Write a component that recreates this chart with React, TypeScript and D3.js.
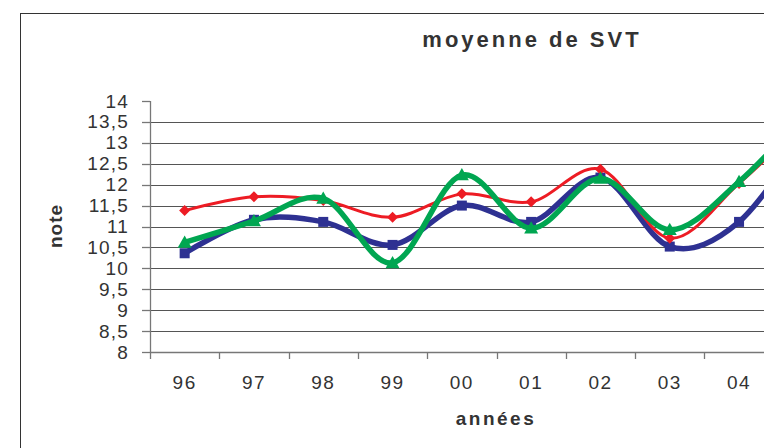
import React from "react";
import * as d3 from "d3";

const categories = ["96", "97", "98", "99", "00", "01", "02", "03", "04", "05"];
const yTicks = [8, 8.5, 9, 9.5, 10, 10.5, 11, 11.5, 12, 12.5, 13, 13.5, 14];
const redValues = [11.38, 11.71, 11.62, 11.22, 11.78, 11.59, 12.37, 10.72, 12.03, 13.6];
const blueValues = [10.36, 11.16, 11.11, 10.56, 11.5, 11.11, 12.17, 10.52, 11.11, 13.3];
const greenValues = [10.62, 11.13, 11.67, 10.13, 12.23, 10.96, 12.15, 10.92, 12.07, 13.8];

const W = 764;
const H = 448;
const FONT = "'Liberation Sans', Arial, sans-serif";

export default function App() {
  const x = d3.scaleBand<string>().domain(categories).range([150, 843]);
  const y = d3.scaleLinear().domain([8, 14]).range([352, 101]);
  const cx = (c: string) => (x(c) as number) + x.bandwidth() / 2;

  const line = d3
    .line<number>()
    .x((_, i) => cx(categories[i]))
    .y((v) => y(v))
    .curve(d3.curveCardinal.tension(0));

  const diamond = (px: number, py: number, r: number) =>
    `M${px},${py - r}L${px + r},${py}L${px},${py + r}L${px - r},${py}Z`;
  const tri = (px: number, py: number, r: number) =>
    `M${px},${py - r}L${px + r},${py + r * 0.75}L${px - r},${py + r * 0.75}Z`;

  const red = "#ED1C24";
  const blue = "#2E3192";
  const green = "#00A651";
  const textCol = "#333";

  const bandTicks = categories.map((c) => x(c) as number).concat([843]);
  const visibleCats = categories.filter((c) => cx(c) + 15 < W);

  return (
    <svg
      width={W}
      height={H}
      style={{ position: "absolute", left: 0, top: 0, background: "#fff" }}
    >
      <rect x={20.5} y={13.5} width={1100} height={600} fill="#fff" stroke="#333" strokeWidth={1} />
      <text
        x={532}
        y={47}
        textAnchor="middle"
        fontFamily={FONT}
        fontWeight="bold"
        fontSize={22}
        letterSpacing={3}
        fill={textCol}
      >
        moyenne de SVT
      </text>

      {/* gridlines */}
      {yTicks
        .filter((t) => t > 8 && t < 14)
        .map((t) => (
          <line key={"g" + t} x1={150} x2={843} y1={Math.round(y(t)) + 0.5} y2={Math.round(y(t)) + 0.5} stroke="#555" strokeWidth={1} />
        ))}

      {/* axes */}
      <line x1={150.5} x2={150.5} y1={y(14)} y2={y(8)} stroke="#777" strokeWidth={1.3} />
      <line x1={150} x2={843} y1={Math.round(y(8)) + 0.5} y2={Math.round(y(8)) + 0.5} stroke="#777" strokeWidth={1.3} />
      {yTicks.map((t) => (
        <g key={"yt" + t}>
          <line x1={142} x2={150} y1={Math.round(y(t)) + 0.5} y2={Math.round(y(t)) + 0.5} stroke="#777" strokeWidth={1.3} />
          <text
            x={129}
            y={y(t) + 6.5}
            textAnchor="end"
            fontFamily={FONT}
            fontSize={19}
            letterSpacing={1.2}
            fill={textCol}
          >
            {String(t).replace(".", ",")}
          </text>
        </g>
      ))}
      {bandTicks.map((bx, i) => (
        <line key={"xt" + i} x1={Math.round(bx) + 0.5} x2={Math.round(bx) + 0.5} y1={352} y2={359} stroke="#777" strokeWidth={1.3} />
      ))}
      {visibleCats.map((c) => (
        <text
          key={"xl" + c}
          x={cx(c)}
          y={389}
          textAnchor="middle"
          fontFamily={FONT}
          fontSize={19}
          letterSpacing={1.5}
          fill={textCol}
        >
          {c}
        </text>
      ))}
      <text
        x={496}
        y={425}
        textAnchor="middle"
        fontFamily={FONT}
        fontWeight="bold"
        fontSize={19}
        letterSpacing={2.5}
        fill={textCol}
      >
        années
      </text>
      <text
        transform={`translate(62,226) rotate(-90)`}
        textAnchor="middle"
        fontFamily={FONT}
        fontWeight="bold"
        fontSize={19}
        letterSpacing={1}
        fill={textCol}
      >
        note
      </text>

      {/* series */}
      <path d={line(blueValues) || ""} fill="none" stroke={blue} strokeWidth={5.5} />
      {blueValues.map((v, i) => (
        <rect key={"b" + i} x={cx(categories[i]) - 5} y={y(v) - 5} width={10} height={10} fill={blue} />
      ))}
      <path d={line(redValues) || ""} fill="none" stroke={red} strokeWidth={3} />
      {redValues.map((v, i) => (
        <path key={"r" + i} d={diamond(cx(categories[i]), y(v), 5.5)} fill={red} />
      ))}
      <path d={line(greenValues) || ""} fill="none" stroke={green} strokeWidth={5.5} />
      {greenValues.map((v, i) => (
        <path key={"gr" + i} d={tri(cx(categories[i]), y(v), 7)} fill={green} />
      ))}
    </svg>
  );
}
